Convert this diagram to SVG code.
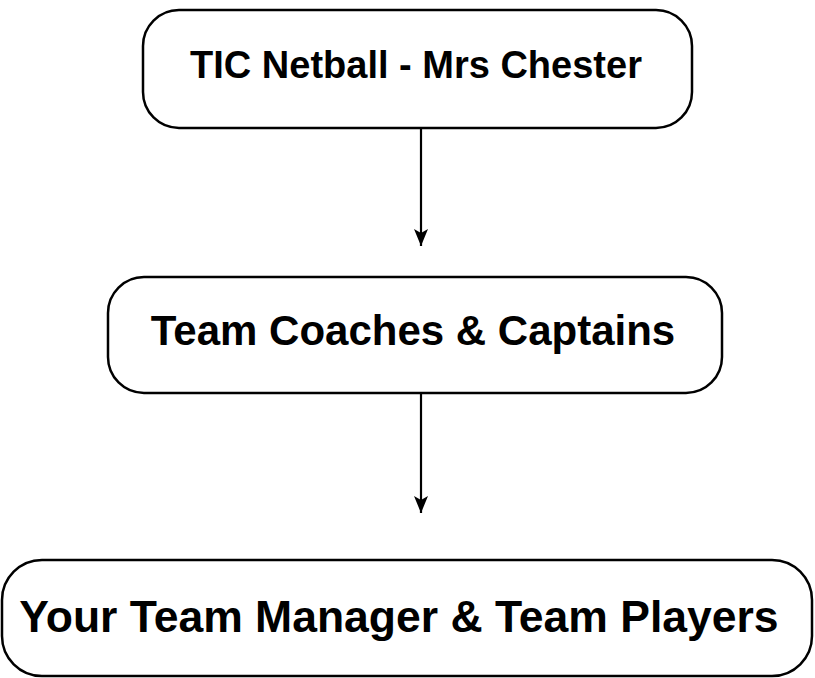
<svg xmlns="http://www.w3.org/2000/svg" width="815" height="678" viewBox="0 0 815 678">
<style>
.box{fill:#fff;stroke:#000;stroke-width:2.5}
.lbl{font-family:"Liberation Sans",Arial,sans-serif;font-weight:bold;fill:#000;text-anchor:middle}
.edge{stroke:#000;stroke-width:2.2;fill:none}
</style>
<defs>
<marker id="ah" markerWidth="18" markerHeight="16" refX="17" refY="7" orient="auto" markerUnits="userSpaceOnUse">
<path d="M0,0 L17,7 L0,14 L4,7 z" fill="#000"/>
</marker>
</defs>
<rect width="815" height="678" fill="#fff"/>
<g id="edges">
<line class="edge" x1="421" y1="129" x2="421" y2="246" marker-end="url(#ah)"/>
<line class="edge" x1="421" y1="394" x2="421" y2="513" marker-end="url(#ah)"/>
</g>
<g id="node1">
<rect class="box" x="143" y="10" width="549" height="118" rx="36"/>
<text class="lbl" x="416" y="78" font-size="38">TIC Netball - Mrs Chester</text>
</g>
<g id="node2">
<rect class="box" x="108" y="277" width="614" height="116" rx="36"/>
<text class="lbl" x="413" y="345" font-size="42">Team Coaches &amp; Captains</text>
</g>
<g id="node3">
<rect class="box" x="2" y="560" width="810" height="116" rx="40"/>
<text class="lbl" x="399" y="632" font-size="44.5">Your Team Manager &amp; Team Players</text>
</g>
</svg>
